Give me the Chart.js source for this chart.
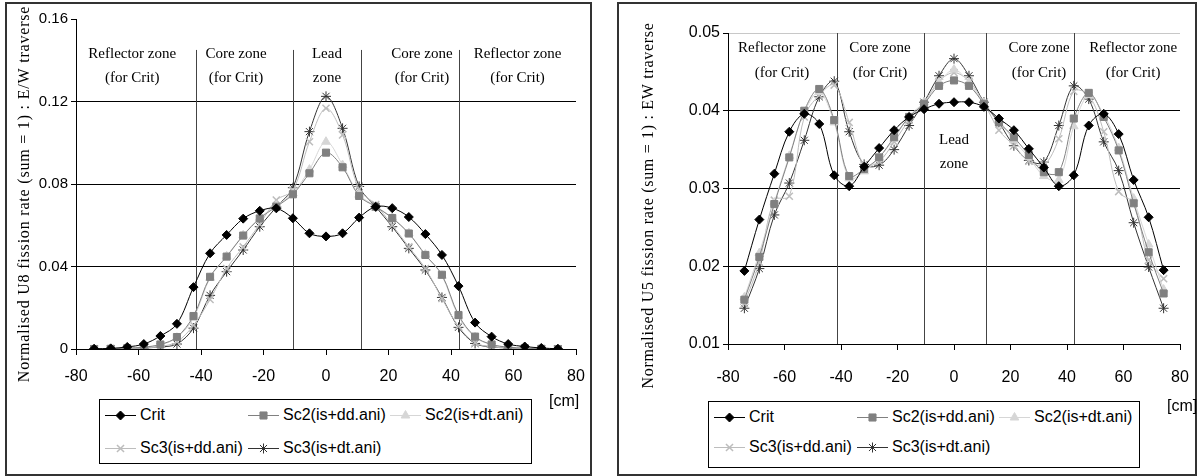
<!DOCTYPE html>
<html>
<head>
<meta charset="utf-8">
<script src="https://cdn.jsdelivr.net/npm/chart.js@4.4.1/dist/chart.umd.min.js"></script>
<style>
  body { margin: 0; background: #fff; width: 1204px; height: 476px; position: relative; overflow: hidden;
         font-family: "Liberation Sans", Arial, sans-serif; }
  .box { position: absolute; border: 2px solid #333; box-sizing: border-box; pointer-events: none; }
  canvas.plot { position: absolute; }
  .legend { position: absolute; border: 1px solid #000; box-sizing: border-box; background: #fff; }
  .item { position: absolute; height: 18px; white-space: nowrap; font-size: 16px; line-height: 18px; }
  .item canvas { position: absolute; left: 0; top: 1px; }
  .item span { position: absolute; left: 35px; top: 0; }
  .unit { position: absolute; font-size: 16px; }
</style>
</head>
<body>
<canvas id="u8" class="plot" style="left:6px;top:3px"></canvas>
<canvas id="u5" class="plot" style="left:618px;top:3px"></canvas>
<div class="box" style="left:5px;top:2px;width:587px;height:474px"></div>
<div class="box" style="left:617px;top:2px;width:580px;height:474px"></div>
<div id="leg8" class="legend" style="left:99px;top:399px;width:433px;height:65px"></div>
<div id="leg5" class="legend" style="left:708px;top:401px;width:432px;height:67px"></div>
<div class="unit" style="left:549px;top:392px">[cm]</div>
<div class="unit" style="left:1167px;top:397px">[cm]</div>
<script>
// measurement positions along the traverse [cm]
const positionsCm = [-74.2, -68.9, -63.6, -58.3, -53.0, -47.7, -42.4, -37.1, -31.8, -26.5, -21.2, -15.9, -10.6, -5.3, 0,
                     5.3, 10.6, 15.9, 21.2, 26.5, 31.8, 37.1, 42.4, 47.7, 53.0, 58.3, 63.6, 68.9, 74.2];

const seriesNames = ['Crit', 'Sc2(is+dd.ani)', 'Sc2(is+dt.ani)', 'Sc3(is+dd.ani)', 'Sc3(is+dt.ani)'];

// U8 fission rate, E/W traverse
const u8Crit  = [0.0001, 0.0003, 0.0010, 0.0024, 0.0063, 0.0122, 0.0300, 0.0464, 0.0553, 0.0632, 0.0670, 0.0682, 0.0634, 0.0561, 0.0546,
                 0.0561, 0.0637, 0.0690, 0.0683, 0.0640, 0.0557, 0.0456, 0.0305, 0.0128, 0.0060, 0.0024, 0.0012, 0.0005, 0.0001];
const u8Sc2dd = [0.0000, 0.0001, 0.0004, 0.0009, 0.0022, 0.0058, 0.0160, 0.0350, 0.0448, 0.0550, 0.0633, 0.0690, 0.0750, 0.0852, 0.0952,
                 0.0881, 0.0742, 0.0690, 0.0635, 0.0560, 0.0456, 0.0360, 0.0165, 0.0060, 0.0022, 0.0009, 0.0004, 0.0001, 0.0000];
const u8Sc2dt = [0.0000, 0.0001, 0.0004, 0.0009, 0.0020, 0.0055, 0.0150, 0.0345, 0.0450, 0.0552, 0.0636, 0.0695, 0.0755, 0.0870, 0.1005,
                 0.0892, 0.0748, 0.0693, 0.0637, 0.0562, 0.0458, 0.0355, 0.0158, 0.0057, 0.0021, 0.0009, 0.0004, 0.0001, 0.0000];
const u8Sc3dd = [0.0000, 0.0000, 0.0002, 0.0005, 0.0012, 0.0035, 0.0115, 0.0240, 0.0390, 0.0495, 0.0605, 0.0722, 0.0770, 0.1005, 0.1167,
                 0.1038, 0.0775, 0.0700, 0.0600, 0.0495, 0.0390, 0.0245, 0.0110, 0.0030, 0.0011, 0.0005, 0.0002, 0.0000, 0.0000];
const u8Sc3dt = [0.0000, 0.0000, 0.0002, 0.0005, 0.0010, 0.0024, 0.0101, 0.0260, 0.0375, 0.0480, 0.0593, 0.0688, 0.0782, 0.1054, 0.1225,
                 0.1070, 0.0788, 0.0690, 0.0593, 0.0488, 0.0383, 0.0250, 0.0105, 0.0027, 0.0010, 0.0005, 0.0002, 0.0000, 0.0000];

// U5 fission rate, EW traverse
const u5Crit  = [0.0194, 0.0260, 0.0319, 0.0373, 0.0396, 0.0383, 0.0317, 0.0303, 0.0328, 0.0352, 0.0375, 0.0392, 0.0402, 0.0409, 0.0411,
                 0.0411, 0.0405, 0.0390, 0.0375, 0.0351, 0.0327, 0.0303, 0.0317, 0.0381, 0.0396, 0.0370, 0.0311, 0.0263, 0.0195];
const u5Sc2dd = [0.0157, 0.0212, 0.0280, 0.0340, 0.0400, 0.0428, 0.0388, 0.0316, 0.0325, 0.0340, 0.0366, 0.0392, 0.0409, 0.0432, 0.0439,
                 0.0432, 0.0409, 0.0385, 0.0366, 0.0343, 0.0321, 0.0321, 0.0390, 0.0423, 0.0392, 0.0349, 0.0281, 0.0218, 0.0165];
const u5Sc2dt = [0.0160, 0.0217, 0.0282, 0.0342, 0.0398, 0.0424, 0.0385, 0.0313, 0.0322, 0.0340, 0.0364, 0.0393, 0.0411, 0.0436, 0.0453,
                 0.0436, 0.0410, 0.0388, 0.0362, 0.0340, 0.0316, 0.0311, 0.0380, 0.0420, 0.0395, 0.0352, 0.0287, 0.0228, 0.0170];
const u5Sc3dd = [0.0152, 0.0205, 0.0285, 0.0290, 0.0392, 0.0420, 0.0433, 0.0385, 0.0330, 0.0335, 0.0360, 0.0388, 0.0410, 0.0438, 0.0449,
                 0.0438, 0.0410, 0.0375, 0.0355, 0.0335, 0.0330, 0.0364, 0.0425, 0.0420, 0.0373, 0.0296, 0.0281, 0.0208, 0.0184];
const u5Sc3dt = [0.0146, 0.0197, 0.0266, 0.0307, 0.0362, 0.0418, 0.0438, 0.0373, 0.0331, 0.0330, 0.0350, 0.0381, 0.0411, 0.0445, 0.0467,
                 0.0445, 0.0411, 0.0385, 0.0355, 0.0336, 0.0334, 0.0381, 0.0432, 0.0415, 0.0360, 0.0323, 0.0256, 0.0199, 0.0146];

// zone boundaries [cm]
const zoneBounds = [-41.5, -10.6, 11.2, 42.5];

// look of each series (marker, colour)
const looks = [
  { color: '#000000', fill: '#000000', point: 'rectRot',  radius: 4.5, pw: 1 },
  { color: '#808080', fill: '#808080', point: 'rect',     radius: 5,   pw: 1 },
  { color: '#d6d6d6', fill: '#d6d6d6', point: 'triangle', radius: 5,   pw: 1 },
  { color: '#bdbdbd', fill: '#bdbdbd', point: 'crossRot', radius: 5,   pw: 1.5 },
  { color: '#333333', fill: '#333333', point: 'star',     radius: 5,   pw: 1 }
];

// zone lines, zone names and the (spaced out) y axis title
const zonePlugin = {
  id: 'zones',
  beforeDatasetsDraw(chart, args, opts) {
    const { ctx, chartArea, scales: { x, y } } = chart;
    ctx.save();
    ctx.strokeStyle = '#444';
    ctx.lineWidth = 1;
    opts.bounds.forEach(b => {
      const px = Math.round(x.getPixelForValue(b)) + 0.5;
      ctx.beginPath();
      ctx.moveTo(px, y.getPixelForValue(opts.from));
      ctx.lineTo(px, y.getPixelForValue(opts.to));
      ctx.stroke();
    });
    ctx.font = '15px "Liberation Serif", "Times New Roman", serif';
    ctx.fillStyle = '#000';
    ctx.textAlign = 'center';
    ctx.textBaseline = 'middle';
    opts.labels.forEach(l => {
      l.text.forEach((t, i) => ctx.fillText(t, x.getPixelForValue(l.x), y.getPixelForValue(l.y[i])));
    });
    // axis title
    ctx.font = '16px "Liberation Serif", "Times New Roman", serif';
    ctx.letterSpacing = opts.title.spacing;
    ctx.translate(opts.title.x, (chartArea.top + chartArea.bottom) / 2 + opts.title.shift);
    ctx.rotate(-Math.PI / 2);
    ctx.fillText(opts.title.text, 0, 0);
    ctx.restore();
  }
};

function makeChart(id, w, h, values, cfg) {
  const canvas = document.getElementById(id);
  canvas.width = w; canvas.height = h;
  canvas.style.width = w + 'px'; canvas.style.height = h + 'px';
  return new Chart(canvas.getContext('2d'), {
    type: 'scatter',
    data: {
      datasets: seriesNames.map((name, i) => ({
        label: name,
        data: positionsCm.map((x, k) => ({ x: x, y: values[i][k] })),
        showLine: true,
        tension: 0.35,
        borderColor: looks[i].color,
        borderWidth: 1,
        pointStyle: looks[i].point,
        pointRadius: looks[i].radius,
        pointBackgroundColor: looks[i].fill,
        pointBorderColor: looks[i].color,
        pointBorderWidth: looks[i].pw
      }))
    },
    options: {
      responsive: false,
      animation: false,
      devicePixelRatio: 1,
      layout: { padding: { left: 0, top: cfg.padTop, right: cfg.padRight, bottom: 0 } },
      plugins: {
        legend: { display: false },
        tooltip: { enabled: false },
        zones: cfg.zones
      },
      scales: {
        x: {
          type: 'linear',
          min: -80, max: 80,
          // fixed height, and no extra room for the end labels
          afterFit: s => { s.height = cfg.xHeight; s.paddingLeft = 0; s.paddingRight = 0; },
          ticks: { stepSize: 20, color: '#000', padding: cfg.xPad,
                   font: { family: '"Liberation Sans", Arial', size: 16 } },
          grid: { drawOnChartArea: false, drawTicks: true, tickLength: 6, tickColor: '#000' },
          border: { display: true, color: '#000', width: 1 }
        },
        y: {
          min: cfg.yMin, max: cfg.yMax,
          afterFit: s => { s.width = cfg.yWidth; },
          ticks: { stepSize: cfg.yStep, color: '#000', padding: 3,
                   font: { family: '"Liberation Sans", Arial', size: cfg.yFont },
                   callback: v => (Math.abs(v) < 1e-9 ? '0' : v.toFixed(2)) },
          grid: { color: cfg.gridColor, tickLength: 5, tickColor: '#000', lineWidth: 1 },
          border: { display: true, color: '#000', width: 1 }
        }
      }
    },
    plugins: [zonePlugin]
  });
}

makeChart('u8', 585, 472, [u8Crit, u8Sc2dd, u8Sc2dt, u8Sc3dd, u8Sc3dt], {
  padTop: 16, padRight: 15, xHeight: 126, yWidth: 70, xPad: 12, yFont: 15,
  yMin: 0, yMax: 0.16, yStep: 0.04,
  gridColor: c => (Math.abs(c.tick.value - 0.16) < 1e-9 ? 'rgba(0,0,0,0)' : '#000'),
  zones: {
    bounds: zoneBounds, from: 0.145, to: 0,
    title: { text: 'Normalised U8 fission rate (sum = 1) : E/W traverse', x: 19, shift: 10, spacing: '0.8px' },
    labels: [
      { text: ['Reflector zone', '(for Crit)'], x: -62, y: [0.143, 0.1315] },
      { text: ['Core zone', '(for Crit)'], x: -28.8, y: [0.143, 0.1315] },
      { text: ['Lead', 'zone'], x: 0.3, y: [0.143, 0.1315] },
      { text: ['Core zone', '(for Crit)'], x: 30.7, y: [0.143, 0.1315] },
      { text: ['Reflector zone', '(for Crit)'], x: 61.3, y: [0.143, 0.1315] }
    ]
  }
});

makeChart('u5', 578, 472, [u5Crit, u5Sc2dd, u5Sc2dt, u5Sc3dd, u5Sc3dt], {
  padTop: 30, padRight: 16, xHeight: 131, yWidth: 110, xPad: 18, yFont: 16,
  yMin: 0.01, yMax: 0.05, yStep: 0.01,
  gridColor: c => (Math.abs(c.tick.value - 0.05) < 1e-9 ? '#c8c8c8' : '#000'),
  zones: {
    bounds: zoneBounds, from: 0.05, to: 0.01,
    title: { text: 'Normalised U5 fission rate (sum = 1) : EW traverse', x: 31, shift: 17, spacing: '0.7px' },
    labels: [
      { text: ['Reflector zone', '(for Crit)'], x: -60.9, y: [0.0481, 0.0449] },
      { text: ['Core zone', '(for Crit)'], x: -26.2, y: [0.0481, 0.0449] },
      { text: ['Lead', 'zone'], x: 0, y: [0.0362, 0.0331] },
      { text: ['Core zone', '(for Crit)'], x: 30.1, y: [0.0481, 0.0449] },
      { text: ['Reflector zone', '(for Crit)'], x: 63.4, y: [0.0481, 0.0449] }
    ]
  }
});

// legends: 3 columns, 2 rows, as in the original
function drawSwatch(cv, look) {
  const ctx = cv.getContext('2d');
  ctx.strokeStyle = look.color;
  ctx.lineWidth = 1;
  ctx.beginPath(); ctx.moveTo(0, 8.5); ctx.lineTo(31, 8.5); ctx.stroke();
  ctx.fillStyle = look.fill;
  ctx.lineWidth = look.pw;
  Chart.helpers.drawPoint(ctx, { pointStyle: look.point, radius: look.radius, borderWidth: look.pw }, 15.5, 8.5);
}

function buildLegend(id, rows) {
  const box = document.getElementById(id);
  const cols = [5, 148, 290];
  seriesNames.forEach((name, i) => {
    const item = document.createElement('div');
    item.className = 'item';
    item.style.left = cols[i % 3] + 'px';
    item.style.top = rows[Math.floor(i / 3)] + 'px';
    const cv = document.createElement('canvas');
    cv.width = 32; cv.height = 17;
    const sp = document.createElement('span');
    sp.textContent = name;
    item.appendChild(cv); item.appendChild(sp);
    box.appendChild(item);
    drawSwatch(cv, looks[i]);
  });
}
buildLegend('leg8', [6, 39]);
buildLegend('leg5', [6, 36]);
</script>
</body>
</html>
